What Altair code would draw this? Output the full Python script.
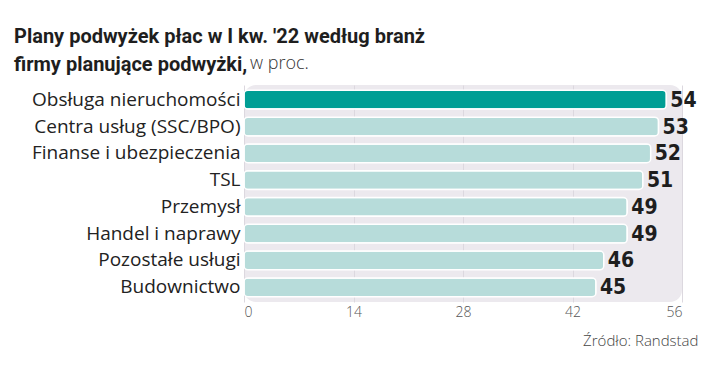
import altair as alt
import pandas as pd

categories = ["Obsługa nieruchomości", "Centra usług (SSC/BPO)", "Finanse i ubezpieczenia",
              "TSL", "Przemysł", "Handel i naprawy", "Pozostałe usługi", "Budownictwo"]
values = [54, 53, 52, 51, 49, 49, 46, 45]
highlight = [True, False, False, False, False, False, False, False]
x_ticks = [0, 14, 28, 42, 56]

df = pd.DataFrame({"cat": categories, "val": values, "hl": highlight})

W, H = 438, 217

base = alt.Chart(df).encode(
    y=alt.Y("cat:N", sort=categories,
            scale=alt.Scale(paddingInner=0.3, paddingOuter=0.2),
            axis=alt.Axis(title=None, labelFont="Open Sans", labelFontSize=19,
                          labelColor="#222222", labelPadding=4, ticks=False,
                          domain=False, labelLimit=300)),
)

bars = base.mark_bar(cornerRadius=4, stroke="white", strokeWidth=1.5).encode(
    x=alt.X("val:Q", scale=alt.Scale(domain=[0, 56], nice=False),
            axis=alt.Axis(values=x_ticks, title="Źródło:  Randstad", titleAnchor="end",
                          titleAlign="right", titleFont="Open Sans", titleFontWeight=300,
                          titleFontSize=15, titleColor="#444444", titleX=W + 16, titleY=31,
                          labelFont="Open Sans", labelFontSize=14, labelColor="#555555",
                          labelFontWeight=300, labelPadding=3, ticks=False, domain=False,
                          grid=True, gridColor="#dcd8df", gridWidth=1)),
    color=alt.Color("hl:N", scale=alt.Scale(domain=[True, False], range=["#009e94", "#b7dcda"]),
                    legend=None),
)

labels = base.mark_text(align="left", baseline="middle", dx=4, dy=1,
                        font="'DejaVu Sans Condensed', 'Roboto Condensed', Roboto",
                        fontWeight="bold", fontSize=21, color="#1e1e1e").encode(
    x="val:Q", text="val:Q")

note = alt.Chart(pd.DataFrame({"t": ["w proc."]})).mark_text(
    align="left", baseline="alphabetic", font="Open Sans", fontSize=18, fontWeight=300,
    color="#333333").encode(x=alt.value(6), y=alt.value(-16), text="t:N")

chart = alt.layer(bars, labels, note).properties(
    width=W, height=H,
    title=alt.TitleParams(
        text=["Plany podwyżek płac w I kw. '22 według branż", "firmy planujące podwyżki,"],
        anchor="start", frame="group", dx=-230, dy=28, offset=8, font="Roboto",
        fontSize=20, fontWeight="bold", color="#1e1e1e", lineHeight=28),
    autosize=alt.AutoSizeParams(type="none"),
    padding={"left": 236, "top": 77, "right": 30, "bottom": 64},
).configure_view(fill="#ece9ee", stroke=None, cornerRadius=12)

chart.save("out.html", embed_options={"renderer": "svg", "actions": False})
